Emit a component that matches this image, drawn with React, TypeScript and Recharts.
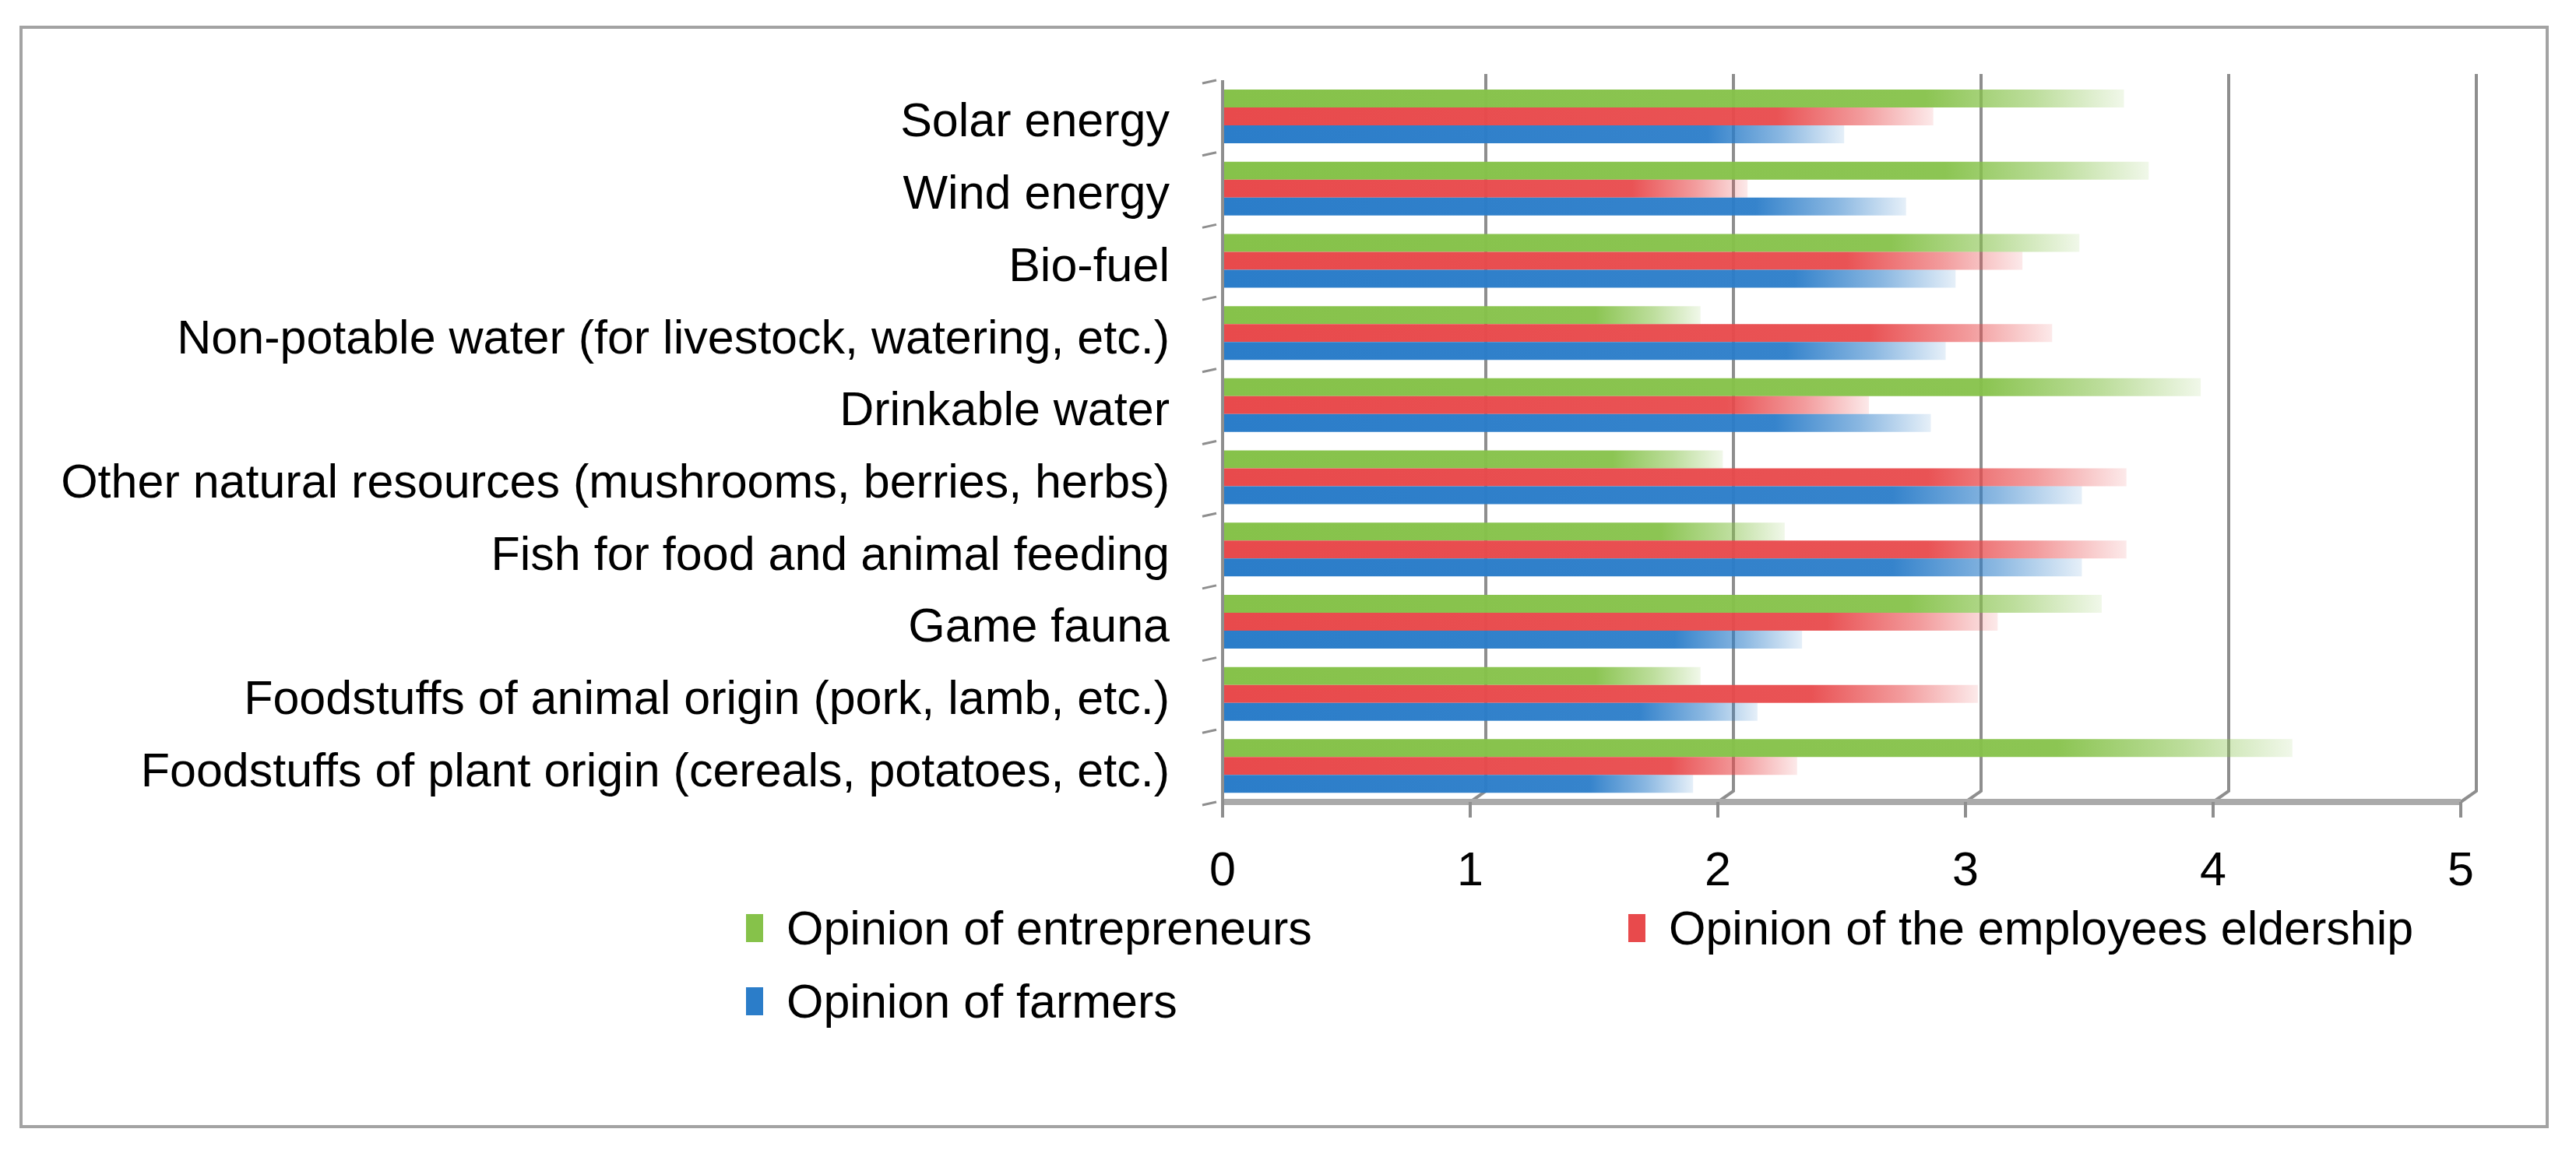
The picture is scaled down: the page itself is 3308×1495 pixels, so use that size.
import { Bar, BarChart, CartesianGrid, Legend, XAxis, YAxis } from "recharts";

// categories top to bottom, as drawn
const categories = [
  "Solar energy",
  "Wind energy",
  "Bio-fuel",
  "Non-potable water (for livestock, watering, etc.)",
  "Drinkable water",
  "Other natural resources (mushrooms, berries, herbs)",
  "Fish for food and animal feeding",
  "Game fauna",
  "Foodstuffs of animal origin (pork, lamb, etc.)",
  "Foodstuffs of plant origin (cereals, potatoes, etc.)",
];

const entrepreneurs = [3.64, 3.74, 3.46, 1.93, 3.95, 2.02, 2.27, 3.55, 1.93, 4.32];
const eldership = [2.87, 2.12, 3.23, 3.35, 2.61, 3.65, 3.65, 3.13, 3.05, 2.32];
const farmers = [2.51, 2.76, 2.96, 2.92, 2.86, 3.47, 3.47, 2.34, 2.16, 1.9];

const seriesNames = [
  "Opinion of entrepreneurs",
  "Opinion of the employees eldership",
  "Opinion of farmers",
];
const xTicks = [0, 1, 2, 3, 4, 5];

const COLORS = ["#86C24A", "#E84A4C", "#2B7DC9"];
const FONT = "'Liberation Sans', Arial, sans-serif";
const FONT_SIZE = 61;

const W = 3308;
const H = 1495;
const PLOT_TOP = 103;
const PLOT_BOTTOM = 1030;
const PLOT_LEFT = 1570;
const PLOT_RIGHT = 3160;
const X_AXIS_H = 120;
const BAND = (PLOT_BOTTOM - PLOT_TOP) / categories.length;
const DEPTH = 20;
const GRID = "#8E8E8E";

const LEGEND_POS = [
  { x: 958, y: 1172 },
  { x: 2091, y: 1172 },
  { x: 958, y: 1266 },
];

const data = categories.map((name, i) => ({
  name,
  entrepreneurs: entrepreneurs[i],
  eldership: eldership[i],
  farmers: farmers[i],
}));

const keys = ["entrepreneurs", "eldership", "farmers"];

const CategoryTick = ({ x, y, payload, index }: any) => {
  const top = y - BAND / 2;
  const bottom = y + BAND / 2;
  return (
    <g>
      <line x1={x - 18} y1={top + 4} x2={x} y2={top} stroke={GRID} strokeWidth={3} />
      {index === categories.length - 1 && (
        <line x1={x - 18} y1={bottom + 4} x2={x} y2={bottom} stroke={GRID} strokeWidth={3} />
      )}
      <text
        x={x - 60}
        y={y + 10}
        textAnchor="end"
        dominantBaseline="middle"
        fontFamily={FONT}
        fontSize={FONT_SIZE}
        fill="#000"
      >
        {payload.value}
      </text>
    </g>
  );
};

const renderVerticalLine = (props: any) => {
  const { x1, y1, y2, index } = props;
  if (index === 0 || x1 <= PLOT_LEFT + 1) return <g key={`v-${index}`} />;
  return (
    <path
      key={`v-${index}`}
      d={`M${x1 + DEPTH},${y1 - 8}L${x1 + DEPTH},${y2 - 14}L${x1},${y2}`}
      stroke={GRID}
      strokeWidth={4}
      fill="none"
    />
  );
};

const renderLegend = ({ payload }: any) => (
  <div style={{ position: "relative", width: 0, height: 0 }}>
    {(payload || []).map((p: any) => {
      const i = keys.indexOf(p.dataKey);
      if (i < 0) return null;
      return (
        <div
          key={p.dataKey}
          style={{
            position: "absolute",
            left: LEGEND_POS[i].x,
            top: LEGEND_POS[i].y,
            display: "flex",
            alignItems: "center",
            whiteSpace: "nowrap",
            fontFamily: FONT,
            fontSize: FONT_SIZE,
            color: "#000",
            lineHeight: "40px",
          }}
        >
          <span
            style={{
              display: "inline-block",
              width: 22,
              height: 36,
              background: COLORS[i],
              marginRight: 30,
            }}
          />
          {seriesNames[i]}
        </div>
      );
    })}
  </div>
);

const App = () => (
  <div style={{ position: "absolute", left: 0, top: 0, width: W, height: H, background: "#fff" }}>
    <div
      style={{
        position: "absolute",
        left: 25,
        top: 33,
        width: 3248,
        height: 1416,
        border: "4px solid #A3A3A3",
        boxSizing: "border-box",
      }}
    />
    <div style={{ position: "absolute", left: 0, top: 0 }}>
      <BarChart
        width={W}
        height={H}
        data={data}
        layout="vertical"
        barCategoryGap="13%"
        barGap={0}
        margin={{ top: PLOT_TOP, right: W - PLOT_RIGHT, bottom: H - PLOT_BOTTOM - X_AXIS_H, left: 0 }}
      >
        <defs>
          {COLORS.map((c, i) => (
            <linearGradient key={i} id={`fade-${i}`} x1="0" y1="0" x2="1" y2="0">
              <stop offset="0%" stopColor={c} stopOpacity={1} />
              <stop offset="78%" stopColor={c} stopOpacity={0.95} />
              <stop offset="90%" stopColor={c} stopOpacity={0.55} />
              <stop offset="100%" stopColor={c} stopOpacity={0.12} />
            </linearGradient>
          ))}
        </defs>
        <CartesianGrid horizontal={false} vertical={renderVerticalLine} />
        <XAxis
          type="number"
          domain={[0, 5]}
          ticks={xTicks}
          interval={0}
          height={X_AXIS_H}
          axisLine={{ stroke: "#AAAAAA", strokeWidth: 8 }}
          tickLine={{ stroke: GRID, strokeWidth: 4 }}
          tickSize={20}
          tickMargin={44}
          tick={{ fontFamily: FONT, fontSize: FONT_SIZE, fill: "#000" }}
        />
        <YAxis
          type="category"
          dataKey="name"
          width={PLOT_LEFT}
          interval={0}
          axisLine={{ stroke: GRID, strokeWidth: 4 }}
          tickLine={false}
          tick={<CategoryTick />}
        />
        <Legend content={renderLegend} wrapperStyle={{ position: "absolute", left: 0, top: 0, width: 0, height: 0 }} />
        {keys.map((k, i) => (
          <Bar
            key={k}
            dataKey={k}
            name={seriesNames[i]}
            fill={`url(#fade-${i})`}
            legendType="rect"
            isAnimationActive={false}
          />
        ))}
      </BarChart>
    </div>
  </div>
);

export default App;
